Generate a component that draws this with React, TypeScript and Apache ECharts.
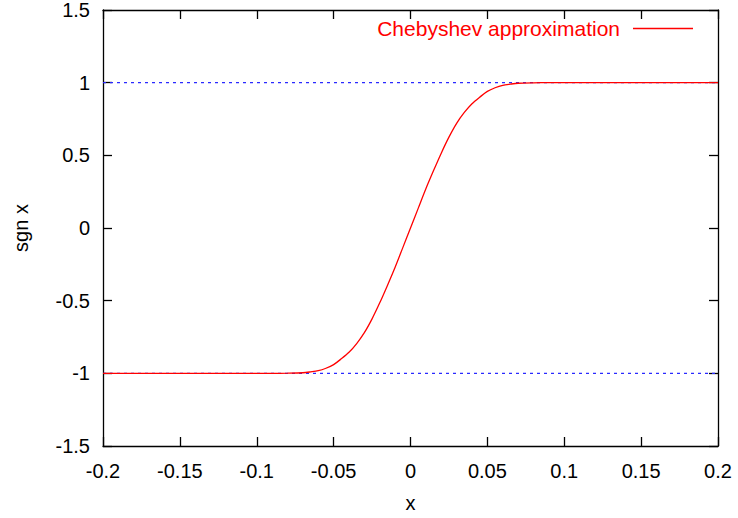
import React, { useEffect, useRef } from "react";
import * as echarts from "echarts";

// x values of the sampled Chebyshev approximation
const xValues = [
  -0.2, -0.18, -0.16, -0.14, -0.12, -0.1, -0.09, -0.08, -0.07, -0.065, -0.06,
  -0.055, -0.05, -0.045, -0.04, -0.035, -0.03, -0.025, -0.02, -0.015, -0.01,
  -0.005, 0, 0.005, 0.01, 0.015, 0.02, 0.025, 0.03, 0.035, 0.04, 0.045, 0.05,
  0.055, 0.06, 0.065, 0.07, 0.08, 0.09, 0.1, 0.12, 0.14, 0.16, 0.18, 0.2,
];
// approximated sgn x values
const yValues = [
  -1, -1, -1, -1, -1, -1, -1, -0.999, -0.996, -0.99, -0.982, -0.965, -0.94,
  -0.9, -0.855, -0.795, -0.72, -0.625, -0.515, -0.395, -0.27, -0.135, 0, 0.135,
  0.27, 0.395, 0.515, 0.625, 0.72, 0.795, 0.855, 0.9, 0.94, 0.965, 0.982, 0.99,
  0.996, 0.999, 1, 1, 1, 1, 1, 1, 1,
];
// reference levels (dotted blue lines)
const refX = [-0.2, 0.2];
const upperLevel = [1, 1];
const lowerLevel = [-1, -1];

const seriesName = "Chebyshev approximation";
const xAxisTitle = "x";
const yAxisTitle = "sgn x";

const FONT = "Liberation Sans, Arial, sans-serif";

export default function App() {
  const ref = useRef<HTMLDivElement>(null);
  useEffect(() => {
    if (!ref.current) return;
    const chart = echarts.init(ref.current, null, { renderer: "svg" });
    const pairs = (xs: number[], ys: number[]) => xs.map((x, i) => [x, ys[i]]);
    const axisCommon = {
      axisLine: { show: true, onZero: false, lineStyle: { color: "#000", width: 1.3 } },
      axisTick: { show: true, inside: true, length: 9, lineStyle: { color: "#000", width: 1.3 } },
      splitLine: { show: false },
    };
    const blue = "#2a2aff";
    chart.setOption({
      animation: false,
      backgroundColor: "#fff",
      textStyle: { fontFamily: FONT },
      grid: { left: 103, right: 20, top: 8, bottom: 67 },
      legend: {
        show: true,
        data: [{ name: seriesName, icon: "rect" }],
        right: 40,
        top: 13,
        align: "right",
        itemWidth: 60,
        itemHeight: 1.5,
        itemStyle: { color: "#ff0000", borderWidth: 0 },
        textStyle: { color: "#ff0000", fontSize: 21, fontFamily: FONT, padding: [0, 8, 0, 0] },
        selectedMode: false,
      },
      xAxis: [
        {
          type: "value",
          min: -0.2,
          max: 0.2,
          interval: 0.05,
          position: "bottom",
          ...axisCommon,
          axisLabel: { color: "#000", fontSize: 20, fontFamily: FONT, margin: 15 },
          name: xAxisTitle,
          nameLocation: "middle",
          nameGap: 47,
          nameTextStyle: { color: "#000", fontSize: 20, fontFamily: FONT },
        },
        {
          type: "value",
          min: -0.2,
          max: 0.2,
          interval: 0.05,
          position: "top",
          ...axisCommon,
          axisLabel: { show: false },
        },
      ],
      yAxis: [
        {
          type: "value",
          min: -1.5,
          max: 1.5,
          interval: 0.5,
          position: "left",
          ...axisCommon,
          axisLabel: { color: "#000", fontSize: 20, fontFamily: FONT, margin: 13 },
          name: yAxisTitle,
          nameLocation: "middle",
          nameGap: 72,
          nameRotate: 90,
          nameTextStyle: { color: "#000", fontSize: 20, fontFamily: FONT },
        },
        {
          type: "value",
          min: -1.5,
          max: 1.5,
          interval: 0.5,
          position: "right",
          ...axisCommon,
          axisLabel: { show: false },
        },
      ],
      series: [
        {
          name: "upper",
          type: "line",
          data: pairs(refX, upperLevel),
          symbol: "none",
          itemStyle: { color: blue },
          lineStyle: { color: blue, width: 1.3, type: [3, 4] },
          silent: true,
        },
        {
          name: "lower",
          type: "line",
          data: pairs(refX, lowerLevel),
          symbol: "none",
          itemStyle: { color: blue },
          lineStyle: { color: blue, width: 1.3, type: [3, 4] },
          silent: true,
        },
        {
          name: seriesName,
          type: "line",
          data: pairs(xValues, yValues),
          symbol: "none",
          smooth: 0.3,
          itemStyle: { color: "#ff0000" },
          lineStyle: { color: "#ff0000", width: 1.3 },
        },
      ],
    });
    return () => chart.dispose();
  }, []);
  return (
    <div
      ref={ref}
      style={{ position: "fixed", left: 0, top: 0, width: 738, height: 518, background: "#fff" }}
    />
  );
}
